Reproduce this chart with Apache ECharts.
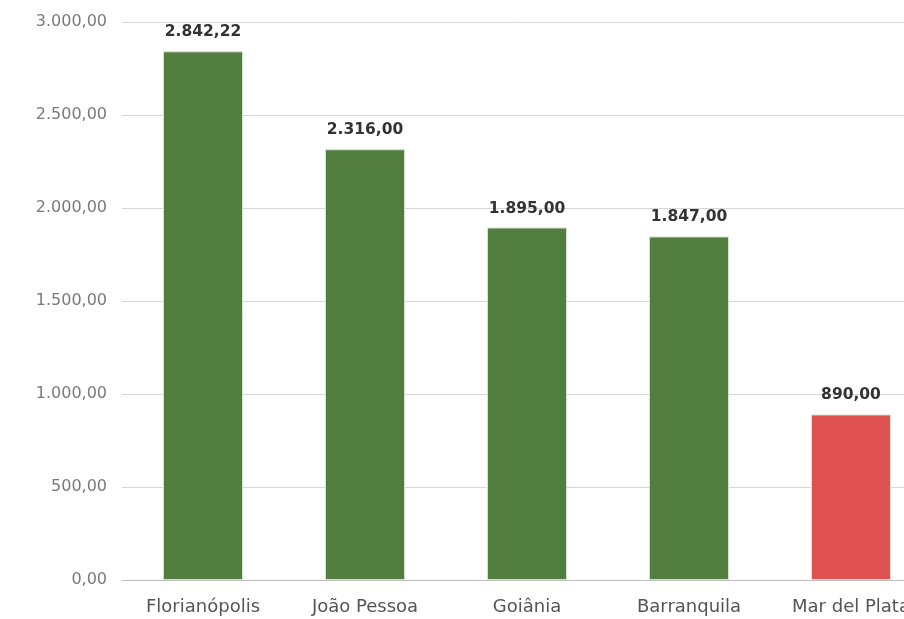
<!DOCTYPE html>
<html>
<head>
<meta charset="utf-8">
<script src="https://cdn.jsdelivr.net/npm/echarts@6/dist/echarts.min.js"></script>
<style>
  html, body { margin: 0; padding: 0; background: #fff; }
  #chart { width: 904px; height: 619px; }
</style>
</head>
<body>
<div id="chart"></div>
<script>
// City values
const cities = ['Florianópolis', 'João Pessoa', 'Goiânia', 'Barranquila', 'Mar del Plata'];
const values = [2842.22, 2316.00, 1895.00, 1847.00, 890.00];
const barColors = ['#527f40', '#527f40', '#527f40', '#527f40', '#e05252'];

// Brazilian number format: thousands with '.', decimals with ','
function fmtBR(v) {
  const parts = Number(v).toFixed(2).split('.');
  const intPart = parts[0].replace(/\B(?=(\d{3})+(?!\d))/g, '.');
  return intPart + ',' + parts[1];
}

const chart = echarts.init(document.getElementById('chart'));
chart.setOption({
  animation: false,
  grid: { left: 122, top: 22, bottom: 39, right: -28, outerBoundsMode: 'none', containLabel: false },
  xAxis: {
    type: 'category',
    data: cities,
    axisTick: { show: false },
    axisLine: { lineStyle: { color: '#bdbdbd', width: 1 } },
    axisLabel: {
      color: '#555',
      fontFamily: '"DejaVu Sans", sans-serif',
      fontSize: 18,
      margin: 18,
      interval: 0
    }
  },
  yAxis: {
    type: 'value',
    min: 0,
    max: 3000,
    interval: 500,
    axisLine: { show: false },
    axisTick: { show: false },
    splitLine: { lineStyle: { color: '#d6d6d6', width: 1 } },
    axisLabel: {
      color: '#7a7a7a',
      fontFamily: '"DejaVu Sans", sans-serif',
      fontSize: 16,
      margin: 15,
      formatter: fmtBR
    }
  },
  series: [{
    type: 'bar',
    barWidth: 80,
    data: values.map((v, i) => ({
      value: v,
      itemStyle: { color: barColors[i], borderColor: '#d8e0d2', borderWidth: 1 }
    })),
    label: {
      show: true,
      position: 'top',
      distance: 11,
      color: '#333',
      fontWeight: 'bold',
      fontFamily: '"DejaVu Sans", sans-serif',
      fontSize: 15.5,
      formatter: p => fmtBR(p.value)
    }
  }]
});
</script>
</body>
</html>
